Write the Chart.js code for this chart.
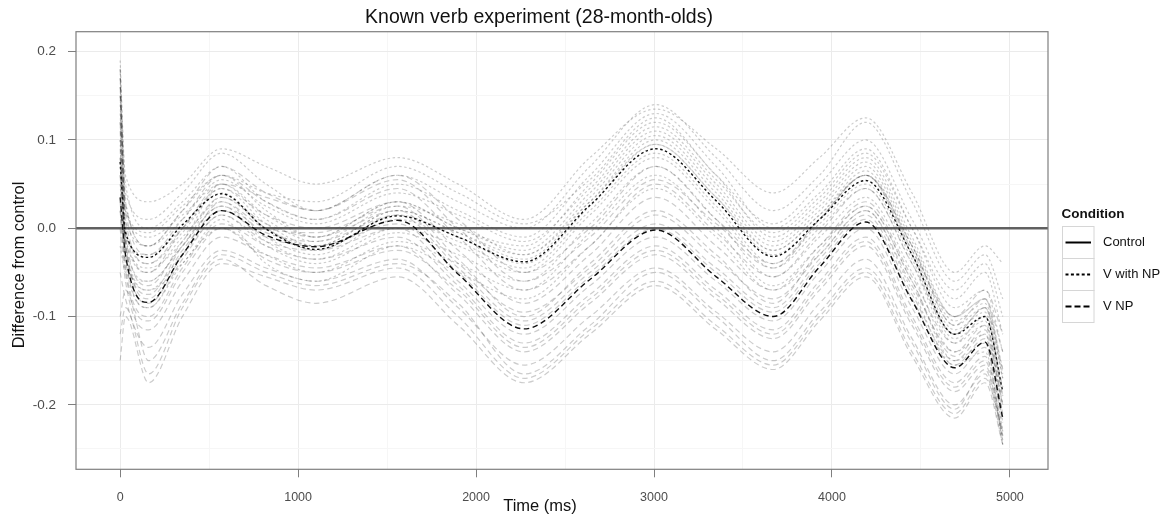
<!DOCTYPE html>
<html>
<head>
<meta charset="utf-8">
<title>Known verb experiment (28-month-olds)</title>
<script src="https://cdn.jsdelivr.net/npm/chart.js@4/dist/chart.umd.min.js"></script>
<style>
  html, body { margin: 0; padding: 0; background: #ffffff; }
  #wrap { width: 1165px; height: 517px; }
</style>
</head>
<body>
<div id="wrap"><canvas id="chart" width="1165" height="517"></canvas></div>
<script>
// Sample times (ms) shared by every curve
const timeMs = [0, 30, 160, 350, 570, 820, 1100, 1560, 1900, 2270, 2640, 3010, 3350, 3670, 3930, 4190, 4450, 4690, 4860, 4960];

// Fitted difference from control, per condition
const vWithNP = [0.075, -0.005, -0.033, 0.004, 0.039, -0.001, -0.024, 0.014, -0.010, -0.038, 0.026, 0.090, 0.031, -0.032, 0.010, 0.054, -0.030, -0.120, -0.100, -0.185];
const vNP = [0.035, -0.030, -0.084, -0.030, 0.020, -0.008, -0.021, 0.009, -0.052, -0.114, -0.058, -0.002, -0.055, -0.100, -0.044, 0.007, -0.082, -0.158, -0.129, -0.215];
const controlLevel = 0;

// Resampled fits (light background curves)
const vWithNPResamples = [
  [0.19, 0.05, 0.00, 0.03, 0.07, 0.03, 0.01, 0.05, 0.02, -0.01, 0.06, 0.13, 0.07, 0.00, 0.04, 0.09, 0.00, -0.09, -0.07, -0.14],
  [0.16, 0.03, -0.02, 0.02, 0.06, 0.02, -0.01, 0.03, 0.00, -0.02, 0.05, 0.12, 0.06, -0.01, 0.03, 0.08, -0.01, -0.10, -0.08, -0.16],
  [0.14, 0.02, -0.01, 0.015, 0.05, 0.01, -0.015, 0.025, 0.005, -0.03, 0.035, 0.105, 0.045, -0.02, 0.02, 0.07, -0.02, -0.11, -0.09, -0.17],
  [0.12, 0.0, -0.04, -0.005, 0.045, 0.005, -0.02, 0.02, -0.005, -0.035, 0.03, 0.10, 0.04, -0.025, 0.015, 0.065, -0.025, -0.115, -0.095, -0.20],
  [0.10, -0.01, -0.05, -0.01, 0.03, -0.01, -0.03, 0.01, -0.015, -0.045, 0.02, 0.085, 0.025, -0.04, 0.005, 0.05, -0.035, -0.125, -0.105, -0.21],
  [0.08, -0.02, -0.06, -0.02, 0.025, -0.015, -0.035, 0.0, -0.02, -0.05, 0.015, 0.08, 0.02, -0.045, 0.0, 0.045, -0.04, -0.13, -0.11, -0.22],
  [0.05, -0.03, -0.07, -0.03, 0.015, -0.02, -0.04, -0.005, -0.03, -0.06, 0.005, 0.07, 0.01, -0.055, -0.01, 0.035, -0.05, -0.14, -0.12, -0.23],
  [0.02, -0.04, -0.09, -0.04, 0.0, -0.03, -0.05, -0.015, -0.04, -0.07, -0.005, 0.06, 0.0, -0.065, -0.02, 0.025, -0.06, -0.15, -0.13, -0.245],
  [0.17, 0.04, 0.01, 0.04, 0.085, 0.05, 0.02, 0.06, 0.03, 0.0, 0.07, 0.14, 0.08, 0.02, 0.06, 0.12, 0.03, -0.06, -0.03, -0.08],
  [0.13, 0.01, -0.02, 0.01, 0.055, 0.025, 0.005, 0.04, 0.015, -0.015, 0.045, 0.115, 0.055, -0.005, 0.035, 0.085, 0.0, -0.08, -0.05, -0.12],
  [-0.02, -0.05, -0.06, -0.02, 0.035, 0.0, -0.025, 0.015, -0.01, -0.04, 0.025, 0.095, 0.035, -0.03, 0.01, 0.06, -0.03, -0.12, -0.09, -0.19],
  [0.06, -0.01, -0.03, 0.0, 0.04, 0.0, -0.02, 0.02, -0.005, -0.03, 0.03, 0.095, 0.035, -0.025, 0.015, 0.06, -0.02, -0.105, -0.085, -0.17],
  [0.18, 0.06, 0.03, 0.05, 0.09, 0.07, 0.05, 0.08, 0.05, 0.01, 0.08, 0.135, 0.09, 0.04, 0.08, 0.125, 0.04, -0.05, -0.02, -0.04],
  [0.10, -0.02, -0.07, -0.04, 0.01, -0.04, -0.06, -0.02, -0.05, -0.08, -0.02, 0.045, -0.01, -0.07, -0.03, 0.02, -0.07, -0.155, -0.14, -0.24],
  [0.15, 0.02, -0.005, 0.025, 0.06, 0.04, 0.03, 0.07, 0.04, 0.005, 0.055, 0.125, 0.06, 0.005, 0.05, 0.10, 0.01, -0.07, -0.04, -0.10],
  [0.07, -0.015, -0.045, -0.015, 0.05, 0.015, -0.01, 0.03, 0.0, -0.025, 0.04, 0.11, 0.05, -0.015, 0.025, 0.075, -0.015, -0.10, -0.08, -0.165]
];
const vNPResamples = [
  [0.18, 0.02, -0.03, 0.01, 0.06, 0.03, 0.01, 0.045, -0.01, -0.07, -0.02, 0.05, -0.005, -0.055, -0.005, 0.045, -0.04, -0.12, -0.09, -0.16],
  [0.15, 0.0, -0.05, 0.0, 0.045, 0.015, 0.0, 0.03, -0.025, -0.085, -0.03, 0.035, -0.02, -0.07, -0.02, 0.03, -0.055, -0.13, -0.10, -0.18],
  [0.12, -0.01, -0.065, -0.015, 0.035, 0.005, -0.01, 0.02, -0.04, -0.095, -0.045, 0.015, -0.035, -0.08, -0.03, 0.02, -0.065, -0.14, -0.11, -0.19],
  [0.09, -0.025, -0.075, -0.02, 0.025, -0.005, -0.015, 0.015, -0.045, -0.105, -0.05, 0.005, -0.045, -0.09, -0.035, 0.015, -0.075, -0.15, -0.12, -0.20],
  [0.06, -0.035, -0.09, -0.035, 0.015, -0.015, -0.025, 0.0, -0.06, -0.12, -0.065, -0.01, -0.06, -0.105, -0.05, 0.0, -0.09, -0.165, -0.135, -0.22],
  [0.03, -0.045, -0.10, -0.045, 0.005, -0.02, -0.035, -0.01, -0.065, -0.13, -0.075, -0.02, -0.07, -0.115, -0.06, -0.01, -0.10, -0.175, -0.145, -0.23],
  [0.0, -0.06, -0.115, -0.06, -0.01, -0.03, -0.045, -0.02, -0.075, -0.14, -0.085, -0.03, -0.08, -0.125, -0.07, -0.02, -0.11, -0.185, -0.155, -0.24],
  [-0.05, -0.08, -0.135, -0.075, -0.025, -0.045, -0.06, -0.035, -0.09, -0.155, -0.10, -0.045, -0.095, -0.14, -0.085, -0.035, -0.125, -0.20, -0.165, -0.245],
  [-0.15, -0.10, -0.175, -0.10, -0.04, -0.055, -0.07, -0.045, -0.10, -0.17, -0.115, -0.06, -0.11, -0.155, -0.10, -0.05, -0.14, -0.21, -0.17, -0.23],
  [0.11, -0.015, -0.08, -0.025, 0.02, -0.01, -0.02, 0.005, -0.05, -0.11, -0.055, 0.0, -0.05, -0.095, -0.04, 0.01, -0.08, -0.155, -0.125, -0.21],
  [0.17, 0.03, -0.02, 0.02, 0.07, 0.04, 0.02, 0.055, 0.0, -0.06, -0.01, 0.055, 0.005, -0.045, 0.01, 0.06, -0.025, -0.10, -0.07, -0.12],
  [-0.10, -0.07, -0.15, -0.085, -0.03, -0.05, -0.065, -0.04, -0.085, -0.165, -0.11, -0.05, -0.10, -0.15, -0.095, -0.045, -0.13, -0.205, -0.16, -0.235],
  [0.16, 0.01, -0.04, 0.0, 0.05, 0.035, 0.02, 0.06, 0.01, -0.05, 0.0, 0.07, 0.01, -0.04, 0.01, 0.06, -0.02, -0.11, -0.08, -0.14],
  [-0.12, -0.09, -0.165, -0.09, -0.035, -0.065, -0.085, -0.055, -0.11, -0.175, -0.12, -0.065, -0.115, -0.16, -0.105, -0.055, -0.145, -0.215, -0.175, -0.245],
  [0.08, -0.02, -0.085, -0.03, 0.03, 0.0, -0.005, 0.025, -0.035, -0.10, -0.04, 0.02, -0.03, -0.085, -0.025, 0.025, -0.06, -0.145, -0.115, -0.20],
  [0.02, -0.05, -0.105, -0.05, 0.0, -0.035, -0.05, -0.025, -0.07, -0.135, -0.08, -0.025, -0.075, -0.12, -0.065, -0.015, -0.105, -0.18, -0.15, -0.235]
];

// Axis ticks and limits
const xTickLabels = [0, 1000, 2000, 3000, 4000, 5000];
const xMinorTicks = [500, 1500, 2500, 3500, 4500];
const yTickLabels = [-0.2, -0.1, 0.0, 0.1, 0.2];
const yMinorTicks = [-0.25, -0.15, -0.05, 0.05, 0.15];
const xLimits = [-248, 5214];
const yLimits = [-0.273, 0.2226];

const FONT = '"Liberation Sans", Arial, Helvetica, sans-serif';
const DOTTED = [2.5, 2.5];
const DASHED = [5.5, 3.5];

const toPoints = (vals) => timeMs.map((t, i) => ({ x: t, y: vals[i] }));
const isLabelled = (list, v) => list.some(l => Math.abs(l - v) < 1e-9);
const tickList = (major, minor) => major.concat(minor).sort((a, b) => a - b).map(v => ({ value: v }));

const datasets = [];
// Main fits (drawn on top: lower order draws last)
datasets.push({ label: 'V with NP', key: true, data: toPoints(vWithNP), borderColor: '#111111', borderWidth: 1.4, borderDash: DOTTED, order: 0 });
datasets.push({ label: 'V NP', key: true, data: toPoints(vNP), borderColor: '#111111', borderWidth: 1.4, borderDash: DASHED, order: 0 });
datasets.push({
  label: 'Control', key: true,
  data: xLimits.map(x => ({ x: x, y: controlLevel })),
  borderColor: 'rgba(70,70,70,0.85)', borderWidth: 2.6, borderDash: [], order: 1
});
vWithNPResamples.forEach((vals, i) => datasets.push({
  label: 'V with NP resample ' + (i + 1), data: toPoints(vals),
  borderColor: 'rgba(0,0,0,0.2)', borderWidth: 1.2, borderDash: DOTTED, order: 2
}));
vNPResamples.forEach((vals, i) => datasets.push({
  label: 'V NP resample ' + (i + 1), data: toPoints(vals),
  borderColor: 'rgba(0,0,0,0.2)', borderWidth: 1.2, borderDash: DASHED, order: 2
}));

// Panel border, titles and the condition key
const decorations = {
  id: 'decorations',
  afterDatasetsDraw(chart) {
    const { ctx, chartArea: a } = chart;
    ctx.save();
    ctx.strokeStyle = '#7f7f7f';
    ctx.lineWidth = 1.2;
    ctx.strokeRect(a.left, a.top, a.right - a.left, a.bottom - a.top);
    ctx.restore();
  },
  afterDraw(chart) {
    const { ctx } = chart;
    ctx.save();
    ctx.fillStyle = '#111111';
    ctx.textAlign = 'center';
    ctx.textBaseline = 'middle';
    ctx.font = '19.5px ' + FONT;
    ctx.fillText('Known verb experiment (28-month-olds)', 539, 18);
    ctx.font = '16.5px ' + FONT;
    ctx.fillText('Time (ms)', 540, 506.5);
    ctx.save();
    ctx.translate(19, 265);
    ctx.rotate(-Math.PI / 2);
    ctx.fillText('Difference from control', 0, 0);
    ctx.restore();

    // condition key
    const keys = ['Control', 'V with NP', 'V NP'].map(l => chart.data.datasets.find(d => d.key && d.label === l));
    ctx.textAlign = 'left';
    ctx.font = 'bold 13.5px ' + FONT;
    ctx.fillText('Condition', 1061.5, 214);
    const bx = 1062.5, bw = 31.5, bh = 32, by0 = 226.5;
    keys.forEach((d, i) => {
      const y = by0 + i * bh;
      ctx.strokeStyle = '#d6d6d6';
      ctx.lineWidth = 1;
      ctx.setLineDash([]);
      ctx.strokeRect(bx, y, bw, bh);
      ctx.strokeStyle = '#000000';
      ctx.lineWidth = 2;
      ctx.setLineDash(d.label === 'Control' ? [] : (d.label === 'V NP' ? [6, 3] : [3, 2.4]));
      ctx.beginPath();
      ctx.moveTo(bx + 3, y + bh / 2);
      ctx.lineTo(bx + bw - 3, y + bh / 2);
      ctx.stroke();
      ctx.setLineDash([]);
      ctx.fillStyle = '#111111';
      ctx.font = '13px ' + FONT;
      ctx.fillText(d.label, 1103, y + bh / 2);
    });
    ctx.restore();
  }
};

new Chart(document.getElementById('chart'), {
  type: 'line',
  data: { datasets: datasets },
  options: {
    responsive: false,
    animation: false,
    devicePixelRatio: 1,
    events: [],
    layout: { padding: { left: 0, right: 117, top: 31.7, bottom: 0 } },
    elements: {
      point: { radius: 0 },
      line: { cubicInterpolationMode: 'monotone', fill: false }
    },
    plugins: {
      legend: { display: false },
      title: { display: false },
      tooltip: { enabled: false }
    },
    scales: {
      x: {
        type: 'linear',
        min: xLimits[0],
        max: xLimits[1],
        afterBuildTicks(s) { s.ticks = tickList(xTickLabels, xMinorTicks); },
        afterFit(s) { s.height = 47.7; },
        border: { display: false },
        grid: {
          color: c => (c.tick && isLabelled(xTickLabels, c.tick.value)) ? '#ebebeb' : '#f6f6f6',
          tickColor: c => (c.tick && isLabelled(xTickLabels, c.tick.value)) ? '#7f7f7f' : 'rgba(0,0,0,0)',
          tickLength: 8,
          lineWidth: 1
        },
        ticks: {
          autoSkip: false,
          maxRotation: 0,
          padding: 13,
          color: '#4d4d4d',
          font: { family: FONT, size: 12.5 },
          callback: v => isLabelled(xTickLabels, v) ? String(v) : ''
        }
      },
      y: {
        type: 'linear',
        min: yLimits[0],
        max: yLimits[1],
        afterBuildTicks(s) { s.ticks = tickList(yTickLabels, yMinorTicks); },
        afterFit(s) { s.width = 76; },
        border: { display: false },
        grid: {
          color: c => (c.tick && isLabelled(yTickLabels, c.tick.value)) ? '#ebebeb' : '#f6f6f6',
          tickColor: c => (c.tick && isLabelled(yTickLabels, c.tick.value)) ? '#7f7f7f' : 'rgba(0,0,0,0)',
          tickLength: 8,
          lineWidth: 1
        },
        ticks: {
          autoSkip: false,
          padding: 12,
          color: '#4d4d4d',
          font: { family: FONT, size: 13.5 },
          callback: v => isLabelled(yTickLabels, v) ? v.toFixed(1) : ''
        }
      }
    }
  },
  plugins: [decorations]
});
</script>
</body>
</html>
